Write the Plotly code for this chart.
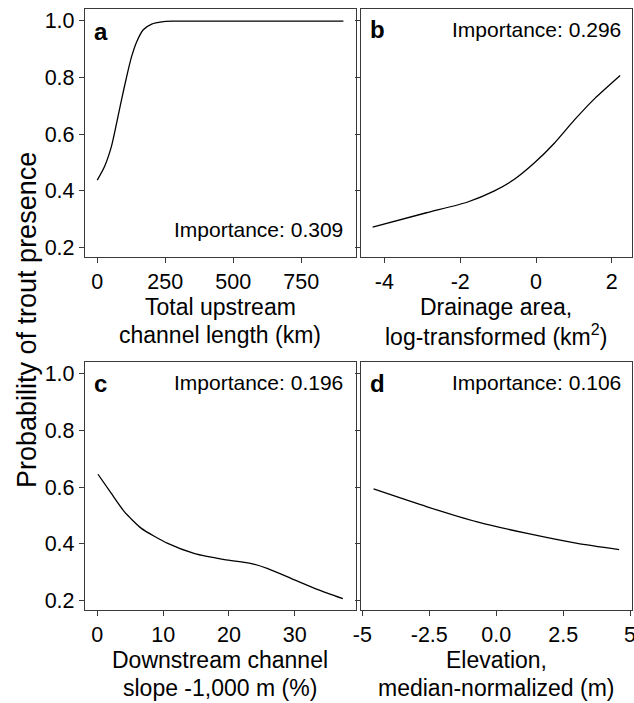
import plotly.graph_objects as go

W, H = 634, 703

# ---- data ----
a_x = [0, 27, 52, 71, 89, 108, 126, 145, 169, 200, 238, 275, 350, 500, 700, 905]
a_y = [0.438, 0.487, 0.557, 0.639, 0.721, 0.803, 0.873, 0.926, 0.968, 0.988, 0.996, 0.998, 0.998, 0.998, 0.998, 0.998]

b_x = [-4.31, -2.89, -1.82, -1.11, -0.58, -0.04, 0.49, 1.02, 1.56, 2.22]
b_y = [0.272, 0.323, 0.360, 0.399, 0.440, 0.499, 0.569, 0.651, 0.727, 0.807]

c_x = [0.1, 2.1, 4.1, 6.7, 10.7, 14.8, 19.3, 23.4, 25.9, 29.5, 33.5, 37.3]
c_y = [0.645, 0.578, 0.513, 0.454, 0.401, 0.365, 0.344, 0.330, 0.312, 0.277, 0.238, 0.206]

d_x = [-4.58, -2.58, -0.71, 1.16, 3.03, 4.59]
d_y = [0.593, 0.530, 0.477, 0.436, 0.401, 0.379]

y_ticks = [0.2, 0.4, 0.6, 0.8, 1.0]
y_tick_text = ["0.2", "0.4", "0.6", "0.8", "1.0"]
a_ticks = [0, 250, 500, 750]
b_ticks = [-4, -2, 0, 2]
c_ticks = [0, 10, 20, 30]
d_ticks = [-5, -2.5, 0, 2.5, 5]
d_tick_text = ["-5", "-2.5", "0.0", "2.5", "5"]

panel_letters = ["a", "b", "c", "d"]
importance = ["Importance: 0.309", "Importance: 0.296", "Importance: 0.196", "Importance: 0.106"]
x_titles = [["Total upstream", "channel length (km)"],
            ["Drainage area,", "log-transformed (km<sup>2</sup>)"],
            ["Downstream channel", "slope -1,000 m (%)"],
            ["Elevation,", "median-normalized (m)"]]
y_title = "Probability of trout presence"

# ---- layout geometry (pixels) ----
FONT = "Liberation Sans, Arial, Helvetica, sans-serif"
col_px = [(85, 355.7), (360.7, 631.7)]
row_px = [(9.3, 257.3), (362.3, 610.0)]

def px_x(p):
    return p / W

def px_y(p):
    return 1 - p / H

fig = go.Figure()
series = [(a_x, a_y), (b_x, b_y), (c_x, c_y), (d_x, d_y)]
x_ranges = [[-45.25, 950.25], [-4.625, 2.525], [-1.87, 39.25], [-5.06, 5.06]]
x_tick_sets = [(a_ticks, [str(t) for t in a_ticks]), (b_ticks, [str(t) for t in b_ticks]),
               (c_ticks, [str(t) for t in c_ticks]), (d_ticks, d_tick_text)]
y_range = [0.166, 1.04]

axis_common = dict(showline=True, mirror=True, linecolor="#3a3a3a", linewidth=1.3,
                   ticks="outside", ticklen=5, tickwidth=1.1, tickcolor="#3a3a3a",
                   showgrid=False, zeroline=False, ticklabeloverflow="allow",
                   tickfont=dict(family=FONT, size=21.5, color="black"))

for i, (xs, ys) in enumerate(series):
    r, c = divmod(i, 2)
    n = "" if i == 0 else str(i + 1)
    fig.add_trace(go.Scatter(x=xs, y=ys, mode="lines",
                             line=dict(color="black", width=1.3, shape="spline", smoothing=0.6),
                             xaxis="x" + n, yaxis="y" + n, showlegend=False, hoverinfo="skip"))
    x0, x1 = col_px[c]
    y0, y1 = row_px[r]
    tv, tt = x_tick_sets[i]
    fig.layout["xaxis" + n] = dict(domain=[px_x(x0), px_x(x1)], range=x_ranges[i],
                                   anchor="y" + n, tickvals=tv, ticktext=tt, **axis_common)
    fig.layout["yaxis" + n] = dict(domain=[px_y(y1), px_y(y0)], range=y_range,
                                   anchor="x" + n, tickvals=y_ticks, ticktext=y_tick_text,
                                   showticklabels=(c == 0), **axis_common)

annotations = []
# panel letters
letter_pos = [(92, 31.5), (368, 30), (92, 383), (368, 383)]
for L, (lx, ly) in zip(panel_letters, letter_pos):
    annotations.append(dict(text="<b>" + L + "</b>", x=px_x(lx), y=px_y(ly), xref="paper", yref="paper",
                            xanchor="left", yanchor="middle", showarrow=False,
                            font=dict(family=FONT, size=24, color="black")))
# importance labels
imp_pos = [(345, 230), (623, 30), (345, 382), (623, 382)]
for t, (ix, iy) in zip(importance, imp_pos):
    annotations.append(dict(text=t, x=px_x(ix), y=px_y(iy), xref="paper", yref="paper",
                            xanchor="right", yanchor="middle", showarrow=False,
                            font=dict(family=FONT, size=21, color="black")))
# x titles (two lines each)
xt_centers = [220.4, 496.2, 220.4, 496.2]
xt_lines_y = [(307, 335), (307, 335), (660, 688), (660, 688)]
for lines, cx, ys in zip(x_titles, xt_centers, xt_lines_y):
    for line, ly in zip(lines, ys):
        annotations.append(dict(text=line, x=px_x(cx), y=px_y(ly), xref="paper", yref="paper",
                                xanchor="center", yanchor="middle", showarrow=False,
                                font=dict(family=FONT, size=23, color="black")))
# y title
annotations.append(dict(text=y_title, x=px_x(27), y=px_y(320), xref="paper", yref="paper",
                        xanchor="center", yanchor="middle", textangle=-90, showarrow=False,
                        font=dict(family=FONT, size=27, color="black")))

fig.update_layout(width=W, height=H, margin=dict(l=0, r=0, t=0, b=0, autoexpand=False),
                  paper_bgcolor="white", plot_bgcolor="white",
                  annotations=annotations, showlegend=False)

fig.write_html("out.html", config={"displayModeBar": False},
               post_script="document.body.style.margin='0';document.body.style.padding='0';"
                           "document.documentElement.style.overflow='hidden';")
